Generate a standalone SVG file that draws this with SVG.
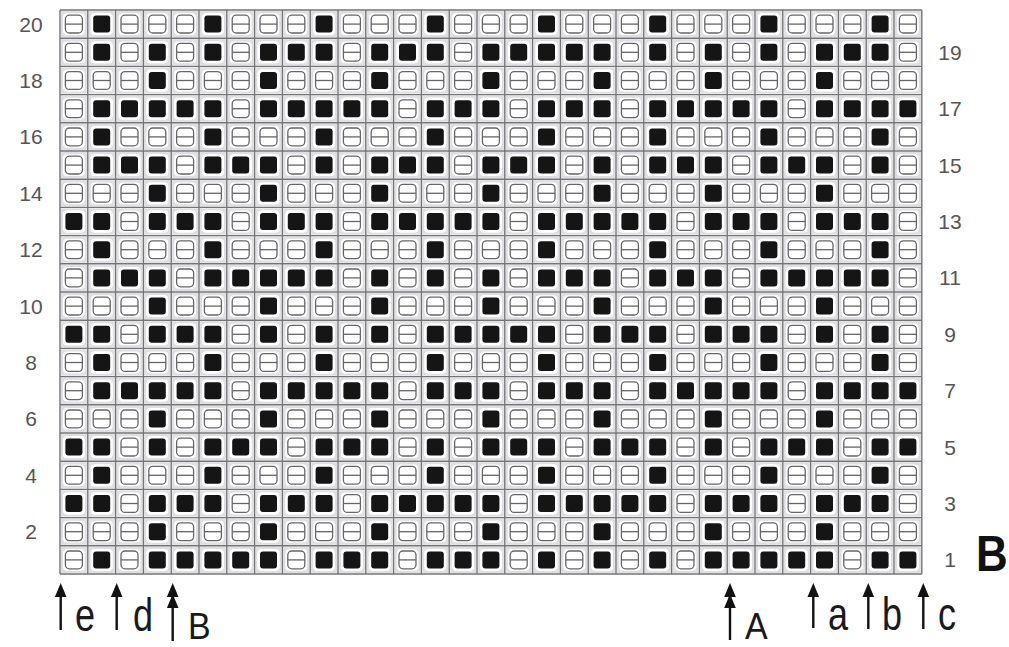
<svg xmlns="http://www.w3.org/2000/svg" xmlns:xlink="http://www.w3.org/1999/xlink" width="1009" height="647" viewBox="0 0 1009 647">
<style>
.num{font-family:"Liberation Sans",Arial,sans-serif;font-size:21px;fill:#555;text-anchor:middle}
.lbl{font-family:"Liberation Sans",Arial,sans-serif;font-size:36px;fill:#1a1a1a}
.cap{font-family:"Liberation Sans",Arial,sans-serif;font-size:34px;fill:#1a1a1a}
.big{font-family:"Liberation Sans",Arial,sans-serif;font-size:44px;font-weight:bold;fill:#111}
.grid{fill:none;stroke:#747474;stroke-width:1.4}
.shaft{stroke:#111;stroke-width:2.4;fill:none}
.head{fill:#111}
</style>
<defs>
<g id="w">
<rect x="1" y="1" width="25.8" height="26.2" fill="#dedee3"/>
<rect x="3" y="3.2" width="21.8" height="21.8" rx="4" fill="#fff"/>
<rect x="5.4" y="5.2" width="17" height="17.8" rx="4" fill="none" stroke="#666" stroke-width="1.3"/>
<line x1="5.4" y1="14.1" x2="22.4" y2="14.1" stroke="#666" stroke-width="1.3"/>
</g>
<g id="k">
<rect x="3" y="3.2" width="21.8" height="21.8" rx="4" fill="#fff"/>
<rect x="5.4" y="5.6" width="17" height="17" rx="3" fill="#151515"/>
</g>
<g id="wr">
<use href="#w" x="60"/><use href="#w" x="87.8"/><use href="#w" x="115.6"/><use href="#w" x="143.4"/><use href="#w" x="171.2"/><use href="#w" x="199"/><use href="#w" x="226.8"/><use href="#w" x="254.6"/><use href="#w" x="282.4"/><use href="#w" x="310.2"/><use href="#w" x="338"/><use href="#w" x="365.8"/><use href="#w" x="393.6"/><use href="#w" x="421.4"/><use href="#w" x="449.2"/><use href="#w" x="477"/><use href="#w" x="504.8"/><use href="#w" x="532.6"/><use href="#w" x="560.4"/><use href="#w" x="588.2"/><use href="#w" x="616"/><use href="#w" x="643.8"/><use href="#w" x="671.6"/><use href="#w" x="699.4"/><use href="#w" x="727.2"/><use href="#w" x="755"/><use href="#w" x="782.8"/><use href="#w" x="810.6"/><use href="#w" x="838.4"/><use href="#w" x="866.2"/><use href="#w" x="894"/>
</g>
<g id="PA"><use href="#k" x="87.8"/><use href="#k" x="199"/><use href="#k" x="310.2"/><use href="#k" x="421.4"/><use href="#k" x="532.6"/></g>
<g id="PB"><use href="#k" x="143.4"/><use href="#k" x="254.6"/><use href="#k" x="365.8"/><use href="#k" x="477"/><use href="#k" x="588.2"/></g>
<g id="R19"><use href="#k" x="87.8"/><use href="#k" x="143.4"/><use href="#k" x="199"/><use href="#k" x="254.6"/><use href="#k" x="282.4"/><use href="#k" x="310.2"/><use href="#k" x="365.8"/><use href="#k" x="393.6"/><use href="#k" x="421.4"/><use href="#k" x="477"/><use href="#k" x="504.8"/><use href="#k" x="532.6"/><use href="#k" x="560.4"/><use href="#k" x="588.2"/></g>
<g id="R17"><use href="#k" x="87.8"/><use href="#k" x="115.6"/><use href="#k" x="143.4"/><use href="#k" x="171.2"/><use href="#k" x="199"/><use href="#k" x="254.6"/><use href="#k" x="282.4"/><use href="#k" x="310.2"/><use href="#k" x="338"/><use href="#k" x="365.8"/><use href="#k" x="421.4"/><use href="#k" x="449.2"/><use href="#k" x="477"/><use href="#k" x="532.6"/><use href="#k" x="560.4"/><use href="#k" x="588.2"/></g>
<g id="R15"><use href="#k" x="87.8"/><use href="#k" x="115.6"/><use href="#k" x="143.4"/><use href="#k" x="199"/><use href="#k" x="226.8"/><use href="#k" x="254.6"/><use href="#k" x="310.2"/><use href="#k" x="365.8"/><use href="#k" x="393.6"/><use href="#k" x="421.4"/><use href="#k" x="477"/><use href="#k" x="504.8"/><use href="#k" x="532.6"/><use href="#k" x="588.2"/></g>
<g id="R13"><use href="#k" x="60"/><use href="#k" x="87.8"/><use href="#k" x="143.4"/><use href="#k" x="171.2"/><use href="#k" x="199"/><use href="#k" x="254.6"/><use href="#k" x="282.4"/><use href="#k" x="310.2"/><use href="#k" x="365.8"/><use href="#k" x="393.6"/><use href="#k" x="421.4"/><use href="#k" x="449.2"/><use href="#k" x="477"/><use href="#k" x="532.6"/><use href="#k" x="560.4"/><use href="#k" x="588.2"/></g>
<g id="R11"><use href="#k" x="87.8"/><use href="#k" x="115.6"/><use href="#k" x="143.4"/><use href="#k" x="199"/><use href="#k" x="226.8"/><use href="#k" x="254.6"/><use href="#k" x="282.4"/><use href="#k" x="310.2"/><use href="#k" x="365.8"/><use href="#k" x="421.4"/><use href="#k" x="477"/><use href="#k" x="532.6"/><use href="#k" x="560.4"/><use href="#k" x="588.2"/></g>
<g id="R9"><use href="#k" x="60"/><use href="#k" x="87.8"/><use href="#k" x="143.4"/><use href="#k" x="171.2"/><use href="#k" x="199"/><use href="#k" x="254.6"/><use href="#k" x="310.2"/><use href="#k" x="365.8"/><use href="#k" x="421.4"/><use href="#k" x="449.2"/><use href="#k" x="477"/><use href="#k" x="504.8"/><use href="#k" x="532.6"/><use href="#k" x="588.2"/></g>
<g id="R5"><use href="#k" x="60"/><use href="#k" x="87.8"/><use href="#k" x="143.4"/><use href="#k" x="199"/><use href="#k" x="226.8"/><use href="#k" x="254.6"/><use href="#k" x="310.2"/><use href="#k" x="338"/><use href="#k" x="365.8"/><use href="#k" x="421.4"/><use href="#k" x="477"/><use href="#k" x="504.8"/><use href="#k" x="532.6"/><use href="#k" x="588.2"/></g>
<g id="R1"><use href="#k" x="87.8"/><use href="#k" x="143.4"/><use href="#k" x="171.2"/><use href="#k" x="199"/><use href="#k" x="226.8"/><use href="#k" x="254.6"/><use href="#k" x="310.2"/><use href="#k" x="338"/><use href="#k" x="365.8"/><use href="#k" x="421.4"/><use href="#k" x="449.2"/><use href="#k" x="477"/><use href="#k" x="532.6"/><use href="#k" x="588.2"/></g>
<clipPath id="gc"><rect x="60" y="10" width="861.8" height="564"/></clipPath>
<path id="hd" d="M0,0 L5.8,14 L-5.8,14 Z"/>
</defs>
<rect width="1009" height="647" fill="#fff"/>
<g id="chart">
<g id="white-cells">
<use href="#wr" y="10"/><use href="#wr" y="38.2"/><use href="#wr" y="66.4"/><use href="#wr" y="94.6"/><use href="#wr" y="122.8"/><use href="#wr" y="151"/><use href="#wr" y="179.2"/><use href="#wr" y="207.4"/><use href="#wr" y="235.6"/><use href="#wr" y="263.8"/><use href="#wr" y="292"/><use href="#wr" y="320.2"/><use href="#wr" y="348.4"/><use href="#wr" y="376.6"/><use href="#wr" y="404.8"/><use href="#wr" y="433"/><use href="#wr" y="461.2"/><use href="#wr" y="489.4"/><use href="#wr" y="517.6"/><use href="#wr" y="545.8"/>
</g>
<g id="black-cells" clip-path="url(#gc)">
<use href="#PA" y="10"/><use href="#PA" x="556" y="10"/>
<use href="#R19" y="38.2"/><use href="#R19" x="556" y="38.2"/>
<use href="#PB" y="66.4"/><use href="#PB" x="556" y="66.4"/>
<use href="#R17" y="94.6"/><use href="#R17" x="556" y="94.6"/>
<use href="#PA" y="122.8"/><use href="#PA" x="556" y="122.8"/>
<use href="#R15" y="151"/><use href="#R15" x="556" y="151"/>
<use href="#PB" y="179.2"/><use href="#PB" x="556" y="179.2"/>
<use href="#R13" y="207.4"/><use href="#R13" x="556" y="207.4"/>
<use href="#PA" y="235.6"/><use href="#PA" x="556" y="235.6"/>
<use href="#R11" y="263.8"/><use href="#R11" x="556" y="263.8"/>
<use href="#PB" y="292"/><use href="#PB" x="556" y="292"/>
<use href="#R9" y="320.2"/><use href="#R9" x="556" y="320.2"/>
<use href="#PA" y="348.4"/><use href="#PA" x="556" y="348.4"/>
<use href="#R17" y="376.6"/><use href="#R17" x="556" y="376.6"/>
<use href="#PB" y="404.8"/><use href="#PB" x="556" y="404.8"/>
<use href="#R5" y="433"/><use href="#R5" x="556" y="433"/>
<use href="#PA" y="461.2"/><use href="#PA" x="556" y="461.2"/>
<use href="#R13" y="489.4"/><use href="#R13" x="556" y="489.4"/>
<use href="#PB" y="517.6"/><use href="#PB" x="556" y="517.6"/>
<use href="#R1" y="545.8"/><use href="#R1" x="556" y="545.8"/>
</g>
<path class="grid" d="M60 10V574M87.8 10V574M115.6 10V574M143.4 10V574M171.2 10V574M199 10V574M226.8 10V574M254.6 10V574M282.4 10V574M310.2 10V574M338 10V574M365.8 10V574M393.6 10V574M421.4 10V574M449.2 10V574M477 10V574M504.8 10V574M532.6 10V574M560.4 10V574M588.2 10V574M616 10V574M643.8 10V574M671.6 10V574M699.4 10V574M727.2 10V574M755 10V574M782.8 10V574M810.6 10V574M838.4 10V574M866.2 10V574M894 10V574M921.8 10V574M60 10H921.8M60 38.2H921.8M60 66.4H921.8M60 94.6H921.8M60 122.8H921.8M60 151H921.8M60 179.2H921.8M60 207.4H921.8M60 235.6H921.8M60 263.8H921.8M60 292H921.8M60 320.2H921.8M60 348.4H921.8M60 376.6H921.8M60 404.8H921.8M60 433H921.8M60 461.2H921.8M60 489.4H921.8M60 517.6H921.8M60 545.8H921.8M60 574H921.8"/>
</g>
<g id="row-numbers-left">
<text class="num" x="31" y="31.6">20</text><text class="num" x="31" y="88">18</text><text class="num" x="31" y="144.4">16</text><text class="num" x="31" y="200.8">14</text><text class="num" x="31" y="257.2">12</text><text class="num" x="31" y="313.6">10</text><text class="num" x="31" y="370">8</text><text class="num" x="31" y="426.4">6</text><text class="num" x="31" y="482.8">4</text><text class="num" x="31" y="539.2">2</text>
</g>
<g id="row-numbers-right">
<text class="num" x="950" y="59.8">19</text><text class="num" x="950" y="116.2">17</text><text class="num" x="950" y="172.6">15</text><text class="num" x="950" y="229">13</text><text class="num" x="950" y="285.4">11</text><text class="num" x="950" y="341.8">9</text><text class="num" x="950" y="398.2">7</text><text class="num" x="950" y="454.6">5</text><text class="num" x="950" y="511">3</text><text class="num" x="950" y="567.4">1</text>
</g>
<g id="title-B"><text class="big" transform="translate(976,571) scale(1,1.12)">B</text></g>
<g id="connectors">
<g id="arrow-e"><line class="shaft" x1="60.7" y1="592" x2="60.7" y2="630"/><use href="#hd" x="60.7" y="583" class="head"/></g>
<g id="arrow-d"><line class="shaft" x1="116.7" y1="592" x2="116.7" y2="630"/><use href="#hd" x="116.7" y="583" class="head"/></g>
<g id="arrow-B"><line class="shaft" x1="172.7" y1="592" x2="172.7" y2="641"/><use href="#hd" x="172.7" y="583" class="head"/><use href="#hd" x="172.7" y="594" class="head"/></g>
<g id="arrow-A"><line class="shaft" x1="730" y1="592" x2="730" y2="640"/><use href="#hd" x="730" y="583" class="head"/><use href="#hd" x="730" y="594" class="head"/></g>
<g id="arrow-a"><line class="shaft" x1="813.3" y1="592" x2="813.3" y2="628"/><use href="#hd" x="813.3" y="583" class="head"/></g>
<g id="arrow-b"><line class="shaft" x1="868.3" y1="592" x2="868.3" y2="629"/><use href="#hd" x="868.3" y="583" class="head"/></g>
<g id="arrow-c"><line class="shaft" x1="923.3" y1="592" x2="923.3" y2="629"/><use href="#hd" x="923.3" y="583" class="head"/></g>
</g>
<g id="labels">
<text class="lbl" transform="translate(75,631) scale(1,1.3)">e</text>
<text class="lbl" transform="translate(133,631) scale(1,1.3)">d</text>
<text class="cap" transform="translate(188,638.5) scale(1,1.1)">B</text>
<text class="cap" transform="translate(745,638.5) scale(1,1.1)">A</text>
<text class="lbl" transform="translate(828,630) scale(1,1.3)">a</text>
<text class="lbl" transform="translate(882,630) scale(1,1.3)">b</text>
<text class="lbl" transform="translate(938,630) scale(1,1.3)">c</text>
</g>
</svg>
